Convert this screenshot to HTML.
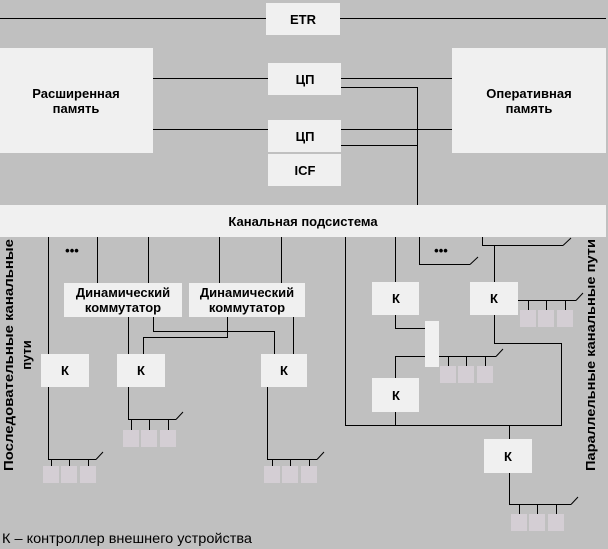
<!DOCTYPE html>
<html><head><meta charset="utf-8"><style>
html,body{margin:0;padding:0;background:#c0c0c0}
svg{display:block}
text{font-family:"Liberation Sans",sans-serif;font-weight:bold;font-size:13px;fill:#000}
</style></head><body>
<svg width="608" height="549" viewBox="0 0 608 549" xmlns="http://www.w3.org/2000/svg">
<rect width="608" height="549" fill="#c0c0c0"/>
<g stroke="#000" stroke-width="1" fill="none">
<line x1="0" y1="18.5" x2="606" y2="18.5"/>
<line x1="153" y1="78.5" x2="452" y2="78.5"/>
<line x1="153" y1="129.5" x2="452" y2="129.5"/>
<polyline points="341,87.5 417.5,87.5 417.5,205"/>
<line x1="341" y1="145.5" x2="417" y2="145.5"/>
<line x1="48.5" y1="237" x2="48.5" y2="459"/>
<line x1="97.5" y1="237" x2="97.5" y2="283"/>
<line x1="148.5" y1="237" x2="148.5" y2="283"/>
<line x1="219.5" y1="237" x2="219.5" y2="283"/>
<line x1="281.5" y1="237" x2="281.5" y2="283"/>
<line x1="128.5" y1="317" x2="128.5" y2="419"/>
<polyline points="153.5,317 153.5,331.5 274.5,331.5 274.5,354"/>
<polyline points="227.5,317 227.5,337.5 143.5,337.5 143.5,354"/>
<line x1="293.5" y1="317" x2="293.5" y2="354"/>
<line x1="267.5" y1="387" x2="267.5" y2="459"/>
<polyline points="345.5,237 345.5,425.5 561.5,425.5 561.5,343.5 494.5,343.5 494.5,246"/>
<line x1="395.5" y1="237" x2="395.5" y2="282"/>
<polyline points="419.5,237 419.5,264.5 470,264.5"/>
<line x1="470" y1="264.5" x2="478" y2="257"/>
<polyline points="482.5,237 482.5,245.5 563,245.5"/>
<line x1="563" y1="245.5" x2="571" y2="238"/>
<polyline points="395.5,315 395.5,328.5 425,328.5"/>
<polyline points="395.5,378 395.5,356.5 425,356.5"/>
<line x1="395.5" y1="412" x2="395.5" y2="425"/>
<line x1="509.5" y1="425" x2="509.5" y2="504"/>
</g>
<g fill="#f0f0f0">
<rect x="266" y="3" width="74" height="32"/>
<rect x="0" y="48" width="153" height="105"/>
<rect x="452" y="48" width="154" height="105"/>
<rect x="268" y="63" width="73" height="32"/>
<rect x="268" y="120" width="73" height="32"/>
<rect x="268" y="154" width="73" height="32"/>
<rect x="0" y="205" width="606" height="32"/>
<rect x="64" y="283" width="118" height="34"/>
<rect x="189" y="283" width="116" height="34"/>
<rect x="41" y="354" width="48" height="33"/>
<rect x="117" y="354" width="48" height="33"/>
<rect x="261" y="354" width="46" height="33"/>
<rect x="372" y="282" width="47" height="33"/>
<rect x="470" y="282" width="48" height="33"/>
<rect x="425" y="321" width="14" height="46"/>
<rect x="372" y="378" width="47" height="34"/>
<rect x="484" y="439" width="48" height="34"/>
</g>
<g stroke="#000" fill="none">
<path d="M48 459.5H96M96 459.5L103 452 M51.5 459v7 M69.5 459v7 M88.5 459v7"/>
<path d="M128 419.5H176M176 419.5L183 412 M131.5 419v11 M149.5 419v11 M168.5 419v11"/>
<path d="M267 459.5H317M317 459.5L324 452 M272.5 459v7 M290.5 459v7 M309.5 459v7"/>
<path d="M518 300.5H576M576 300.5L583 293 M528.5 300v10 M546.5 300v10 M565.5 300v10"/>
<path d="M439 356.5H496M496 356.5L503 349 M448.5 356v10 M466.5 356v10 M485.5 356v10"/>
<path d="M509 504.5H571M571 504.5L578 497 M519.5 504v10 M537.5 504v10 M556.5 504v10"/>
</g>
<g fill="#d4ced4">
<rect x="43" y="466" width="16" height="17"/><rect x="61" y="466" width="16" height="17"/><rect x="80" y="466" width="16" height="17"/>
<rect x="123" y="430" width="16" height="17"/><rect x="141" y="430" width="16" height="17"/><rect x="160" y="430" width="16" height="17"/>
<rect x="264" y="466" width="16" height="17"/><rect x="282" y="466" width="16" height="17"/><rect x="301" y="466" width="16" height="17"/>
<rect x="520" y="310" width="16" height="17"/><rect x="538" y="310" width="16" height="17"/><rect x="557" y="310" width="16" height="17"/>
<rect x="440" y="366" width="16" height="17"/><rect x="458" y="366" width="16" height="17"/><rect x="477" y="366" width="16" height="17"/>
<rect x="511" y="514" width="16" height="17"/><rect x="529" y="514" width="16" height="17"/><rect x="548" y="514" width="16" height="17"/>
</g>
<g text-anchor="middle">
<text x="303" y="24">ETR</text>
<text x="305" y="84">ЦП</text>
<text x="305" y="141">ЦП</text>
<text x="305" y="175">ICF</text>
<text x="76" y="98">Расширенная</text>
<text x="76" y="113">память</text>
<text x="529" y="98">Оперативная</text>
<text x="529" y="113">память</text>
<text x="303" y="226">Канальная подсистема</text>
<text x="123" y="297">Динамический</text>
<text x="123" y="312">коммутатор</text>
<text x="247" y="297">Динамический</text>
<text x="247" y="312">коммутатор</text>
<text x="65" y="375">К</text>
<text x="141" y="375">К</text>
<text x="284" y="375">К</text>
<text x="396" y="303">К</text>
<text x="494" y="303">К</text>
<text x="396" y="400">К</text>
<text x="508" y="461">К</text>
<text x="72" y="255" font-size="10">•••</text>
<text x="441" y="255" font-size="10">•••</text>
<text transform="translate(13,355) rotate(-90)" font-size="14" textLength="232" lengthAdjust="spacingAndGlyphs">Последовательные канальные</text>
<text transform="translate(31,355) rotate(-90)" font-size="14">пути</text>
<text transform="translate(595,355) rotate(-90)" font-size="14" textLength="232" lengthAdjust="spacingAndGlyphs">Параллельные канальные пути</text>
</g>
<text x="2" y="543" style="font-weight:normal;font-size:14px" textLength="250" lengthAdjust="spacingAndGlyphs">К – контроллер внешнего устройства</text>
</svg>
</body></html>
